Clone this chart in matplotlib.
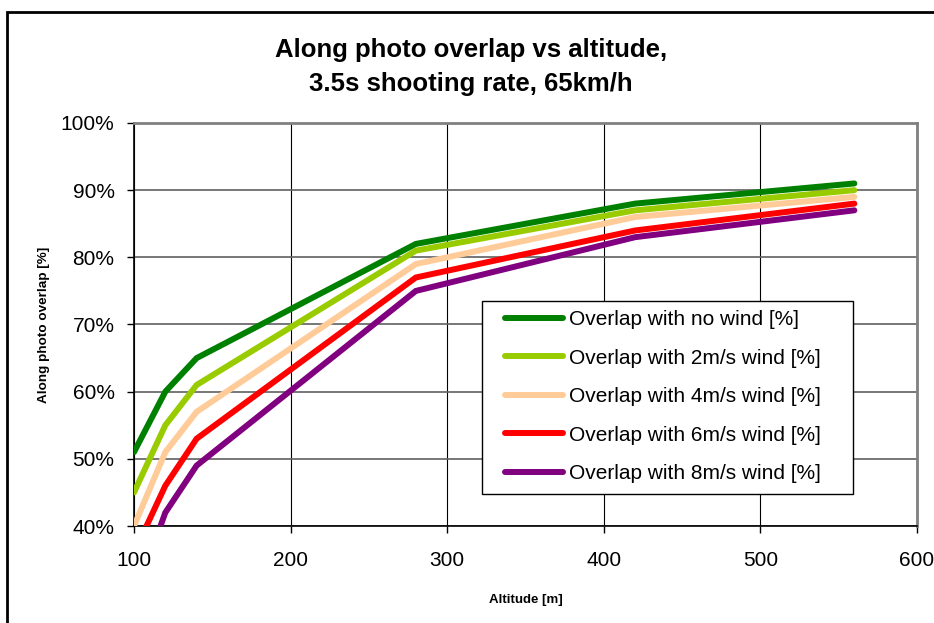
import matplotlib
matplotlib.use("Agg")
import matplotlib.pyplot as plt
from matplotlib.patches import Rectangle

plt.rcParams['font.family'] = ['Liberation Sans', 'DejaVu Sans']

altitude = [100, 120, 140, 280, 420, 560]
no_wind = [51, 60, 65, 82, 88, 91]
wind_2 = [45, 55, 61, 81, 87, 90]
wind_4 = [40, 51, 57, 79, 86, 89]
wind_6 = [36, 46, 53, 77, 84, 88]
wind_8 = [29, 42, 49, 75, 83, 87]

series = [no_wind, wind_2, wind_4, wind_6, wind_8]
labels = ['Overlap with no wind [%]',
          'Overlap with 2m/s wind [%]',
          'Overlap with 4m/s wind [%]',
          'Overlap with 6m/s wind [%]',
          'Overlap with 8m/s wind [%]']
colors = ['#008000', '#99CC00', '#FFCC99', '#FF0000', '#800080']

x_ticks = [100, 200, 300, 400, 500, 600]
y_ticks = [40, 50, 60, 70, 80, 90, 100]

W, H = 934, 623
fig = plt.figure(figsize=(W / 100, H / 100), dpi=100)
ax = fig.add_axes([134 / W, 1 - 526 / H, (917 - 134) / W, (526 - 123) / H])

for vals, lab, col in zip(series, labels, colors):
    ax.plot(altitude, vals, color=col, lw=4.3, label=lab,
            solid_capstyle='round', solid_joinstyle='miter', zorder=3)

ax.set_xlim(100, 600)
ax.set_ylim(40, 100)
ax.set_xticks(x_ticks)
ax.set_yticks(y_ticks)
ax.set_yticklabels([f"{v}%" for v in y_ticks])
ax.tick_params(axis='both', labelsize=15, direction='out', length=5, width=1)
ax.tick_params(axis='x', pad=13)
ax.tick_params(axis='y', pad=9)

ax.yaxis.grid(True, color='#606060', lw=1.2)
ax.xaxis.grid(True, color='black', lw=0.8)
ax.set_axisbelow(True)

for s in ['left', 'bottom']:
    ax.spines[s].set_color('black')
    ax.spines[s].set_linewidth(1.2)
for s in ['top', 'right']:
    ax.spines[s].set_color('#808080')
    ax.spines[s].set_linewidth(2)

ax.set_xlabel('Altitude [m]', fontsize=9.5, fontweight='bold')
ax.xaxis.set_label_coords(0.5, (526 - 594) / (526 - 123))
ax.set_ylabel('Along photo overlap [%]', fontsize=9.7, fontweight='bold')
ax.yaxis.set_label_coords((50 - 134) / (917 - 134), 0.5)

fig.text(471 / W, 1 - 67 / H, 'Along photo overlap vs altitude,\n3.5s shooting rate, 65km/h',
         ha='center', va='center', fontsize=18.5, fontweight='bold', linespacing=1.55)

# legend box
box = Rectangle((482 / W, 1 - 494 / H), (853 - 482) / W, (494 - 301) / H,
                transform=fig.transFigure, facecolor='white', edgecolor='black',
                lw=1.0, zorder=4)
fig.patches.append(box)
leg = fig.legend(loc='upper left', bbox_to_anchor=(505 / W, 1 - 310 / H),
                 frameon=False, fontsize=15, borderpad=0, borderaxespad=0,
                 handlelength=2.8, handletextpad=0.25, labelspacing=0.94)
leg.set_zorder(5)

# outer chart frame
frame = Rectangle((7 / W, -0.1), 1.2, 1 - 12 / H + 0.1, transform=fig.transFigure,
                  fill=False, edgecolor='black', lw=2, zorder=0)
fig.patches.append(frame)

fig.savefig('out.png', dpi=100)
